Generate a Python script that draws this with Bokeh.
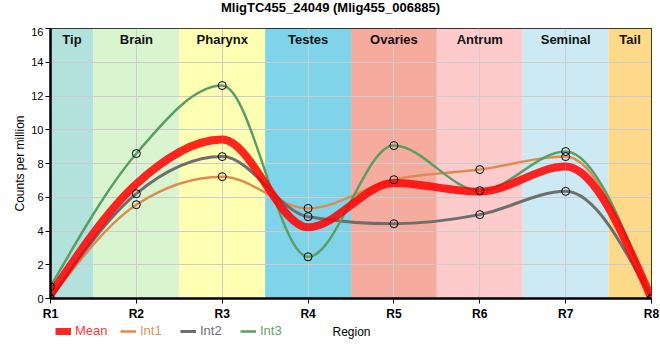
import numpy as np
from bokeh.plotting import figure
from bokeh.layouts import column
from bokeh.models import Range1d, FixedTicker, Legend, LegendItem, ColumnDataSource, Label
from bokeh.core.properties import value
from bokeh.embed import file_html
from bokeh.resources import INLINE

# ---- data ----
title_text = "MligTC455_24049 (Mlig455_006885)"
regions = ["R1", "R2", "R3", "R4", "R5", "R6", "R7", "R8"]
mean = [0.23, 6.79, 9.42, 4.22, 6.84, 6.33, 7.82, 0.0]
int1 = [0.0, 5.56, 7.22, 5.34, 7.04, 7.64, 8.41, 0.0]
int2 = [0.0, 6.21, 8.41, 4.85, 4.43, 4.97, 6.35, 0.0]
int3 = [0.70, 8.59, 12.62, 2.47, 9.06, 6.39, 8.71, 0.0]

tissues = ["Tip", "Brain", "Pharynx", "Testes", "Ovaries", "Antrum", "Seminal", "Tail"]
tissue_start = [0.0, 0.5, 1.5, 2.5, 3.5, 4.5, 5.5, 6.5]
tissue_end = [0.5, 1.5, 2.5, 3.5, 4.5, 5.5, 6.5, 7.0]
tissue_colors = ["#b3e2dd", "#d9f5d0", "#ffffb3", "#80d4ea",
                 "#f5ac9e", "#fdcbcb", "#cdeaf4", "#fdd98a"]

y_ticks = [0, 2, 4, 6, 8, 10, 12, 14, 16]

FONT = "Liberation Sans"
W = 660

xs = list(range(len(regions)))


def monotone_bezier(xv, yv):
    """Control points of a monotone cubic (d3 curveMonotoneX) through the data."""
    n = len(xv)
    t = [0.0] * n

    def sgn(v):
        return -1.0 if v < 0 else 1.0

    for i in range(1, n - 1):
        h0 = xv[i] - xv[i - 1]
        h1 = xv[i + 1] - xv[i]
        s0 = (yv[i] - yv[i - 1]) / h0
        s1 = (yv[i + 1] - yv[i]) / h1
        pp = (s0 * h1 + s1 * h0) / (h0 + h1)
        t[i] = (sgn(s0) + sgn(s1)) * min(abs(s0), abs(s1), 0.5 * abs(pp))
    h = xv[1] - xv[0]
    t[0] = (3 * (yv[1] - yv[0]) / h - t[1]) / 2
    h = xv[-1] - xv[-2]
    t[-1] = (3 * (yv[-1] - yv[-2]) / h - t[-2]) / 2
    d = dict(x0=[], y0=[], x1=[], y1=[], cx0=[], cy0=[], cx1=[], cy1=[])
    for i in range(n - 1):
        dx = (xv[i + 1] - xv[i]) / 3.0
        d["x0"].append(xv[i]); d["y0"].append(yv[i])
        d["x1"].append(xv[i + 1]); d["y1"].append(yv[i + 1])
        d["cx0"].append(xv[i] + dx); d["cy0"].append(yv[i] + dx * t[i])
        d["cx1"].append(xv[i + 1] - dx); d["cy1"].append(yv[i + 1] - dx * t[i + 1])
    return ColumnDataSource(d)


def strip(height):
    s = figure(width=W, height=height, output_backend="svg", toolbar_location=None,
               x_axis_type=None, y_axis_type=None, x_range=Range1d(0, W),
               y_range=Range1d(0, height), min_border=0, min_border_left=0,
               min_border_right=0, min_border_top=0, min_border_bottom=0)
    s.outline_line_color = None
    s.grid.visible = False
    s.background_fill_color = "#ffffff"
    s.border_fill_color = "#ffffff"
    return s


# ---- title strip ----
p0 = strip(27)
p0.add_layout(Label(x=280, y=20, x_units="screen", y_units="screen", text=title_text,
                    text_align="center", text_baseline="alphabetic", text_font=FONT,
                    text_font_size="13px", text_font_style="bold", text_color="#000000"))

# ---- main plot ----
p = figure(frame_width=601, frame_height=270, output_backend="svg", toolbar_location=None,
           x_range=Range1d(0, len(regions) - 1), y_range=Range1d(y_ticks[0], y_ticks[-1]),
           min_border_left=50, min_border_right=9, min_border_top=1, min_border_bottom=20)

p.outline_line_color = "#000000"
p.outline_line_width = 1
p.background_fill_color = "#ffffff"
p.border_fill_color = "#ffffff"

# tissue bands (below grid)
band_src = ColumnDataSource(dict(left=tissue_start, right=tissue_end,
                                 color=tissue_colors, name=tissues,
                                 mid=[(a + b) / 2 for a, b in zip(tissue_start, tissue_end)],
                                 top=[y_ticks[-1]] * len(tissues)))
p.quad(left="left", right="right", bottom=y_ticks[0], top=y_ticks[-1], fill_color="color",
       line_color=None, source=band_src, level="image")
p.text(x="mid", y="top", text="name", source=band_src, text_align="center",
       text_baseline="top", y_offset=3, text_font=value(FONT), text_font_size="13px",
       text_font_style="bold", text_color="#111111")

# grid
p.xgrid.ticker = FixedTicker(ticks=xs)
p.ygrid.ticker = FixedTicker(ticks=y_ticks)
p.grid.grid_line_color = "#cccccc"
p.grid.grid_line_width = 1

# axes
p.xaxis.ticker = FixedTicker(ticks=xs)
p.xaxis.major_label_overrides = {i: r for i, r in enumerate(regions)}
p.yaxis.ticker = FixedTicker(ticks=y_ticks)
for ax in (p.xaxis[0], p.yaxis[0]):
    ax.axis_line_color = "#000000"
    ax.axis_line_width = 2.5
    ax.major_tick_line_color = "#000000"
    ax.major_tick_in = 0
    ax.major_tick_out = 5
    ax.minor_tick_line_color = None
    ax.major_label_text_font = FONT
    ax.major_label_text_color = "#000000"
    ax.axis_label_text_font = FONT
    ax.axis_label_text_font_style = "normal"
    ax.axis_label_text_font_size = "12px"
    ax.axis_label_text_color = "#000000"
p.xaxis.major_label_text_font_size = "12px"
p.xaxis.major_label_text_font_style = "bold"
p.xaxis.major_label_standoff = 3
p.yaxis.major_label_text_font_size = "11px"
p.yaxis.major_label_standoff = 2
p.yaxis.axis_label = "Counts per million"
p.yaxis.axis_label_standoff = 1

series = [("Int1", int1, "#de8b50", 2.5),
          ("Int2", int2, "#6e6e6e", 3.0),
          ("Int3", int3, "#5a9e64", 2.5)]
for name, vals, col, lw in series:
    src = monotone_bezier(xs, vals)
    p.bezier(x0="x0", y0="y0", x1="x1", y1="y1", cx0="cx0", cy0="cy0",
             cx1="cx1", cy1="cy1", source=src, line_color=col, line_width=lw)
mean_src = monotone_bezier(xs, mean)
p.bezier(x0="x0", y0="y0", x1="x1", y1="y1", cx0="cx0", cy0="cy0",
         cx1="cx1", cy1="cy1", source=mean_src, line_color="#ff0000",
         line_width=8, line_alpha=0.85)

for name, vals, col, lw in series:
    p.scatter(x=xs, y=vals, size=8, marker="circle", fill_color=None,
              line_color="#000000", line_width=1)

# ---- legend strip ----
p2 = strip(30)
legend_spec = [("Mean", mean, "#ff0000", 7, 0.85, "#ff3a3a", 5),
               ("Int1", int1, "#de8b50", 2.5, 1.0, "#e39560", 70),
               ("Int2", int2, "#6e6e6e", 3.0, 1.0, "#6e6e78", 130),
               ("Int3", int3, "#5a9e64", 2.5, 1.0, "#5fa46e", 190)]
for name, vals, lcol, lw, la, tcol, xoff in legend_spec:
    r = p2.line(x=xs, y=vals, line_color=lcol, line_width=lw, line_alpha=la, visible=False)
    lg = Legend(items=[LegendItem(label=name, renderers=[r])],
                location=(xoff, 15), orientation="horizontal",
                background_fill_alpha=0, border_line_color=None,
                padding=0, margin=0, spacing=0, glyph_width=16, glyph_height=14,
                label_height=14, label_standoff=4, label_text_font=FONT,
                label_text_font_size="13px", label_text_color=tcol,
                label_text_baseline="middle")
    p2.add_layout(lg, "center")

p2.add_layout(Label(x=301, y=22, x_units="screen", y_units="screen", text="Region",
                    text_align="center", text_baseline="middle", text_font=FONT,
                    text_font_size="12px", text_color="#000000"))

open("out.html", "w").write(file_html(column(p0, p, p2, spacing=0), INLINE))
